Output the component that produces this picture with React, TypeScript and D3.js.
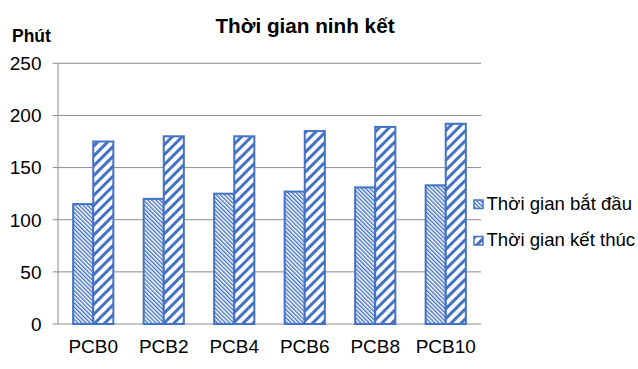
import React from "react";
import * as d3 from "d3";

const categories = ["PCB0", "PCB2", "PCB4", "PCB6", "PCB8", "PCB10"];
const startValues = [115, 120, 125, 127, 131, 133];
const endValues = [175, 180, 180, 185, 189, 192];
const seriesNames = ["Thời gian bắt đầu", "Thời gian kết thúc"];
const yTicks = [0, 50, 100, 150, 200, 250];

const W = 638;
const H = 369;
const BLUE = "#4472C4";
const GRID = "#8c8c8c";
const FONT = "'Liberation Sans', Arial, sans-serif";

export default function App() {
  const x = d3
    .scaleBand<string>()
    .domain(categories)
    .range([58, 481])
    .paddingInner(0.43)
    .paddingOuter(0.215);
  const y = d3.scaleLinear().domain([0, 250]).range([324, 63.3]);
  const bw = x.bandwidth() / 2;

  return (
    <svg
      width={W}
      height={H}
      style={{ position: "absolute", left: 0, top: 0, background: "#fff" }}
    >
      <defs>
        <pattern
          id="pDown"
          width={2.9}
          height={2.9}
          patternUnits="userSpaceOnUse"
          patternTransform="rotate(-45)"
        >
          <rect width={2.9} height={2.9} fill="#fff" />
          <rect width={1.4} height={2.9} fill={BLUE} />
        </pattern>
        <pattern
          id="pUp"
          width={7}
          height={7}
          patternUnits="userSpaceOnUse"
          patternTransform="rotate(45)"
        >
          <rect width={7} height={7} fill="#fff" />
          <rect width={3} height={7} fill={BLUE} />
        </pattern>
      </defs>

      {/* title */}
      <text
        x={305}
        y={33}
        textAnchor="middle"
        fontFamily={FONT}
        fontWeight="bold"
        fontSize={20.7}
        fill="#000"
      >
        Thời gian ninh kết
      </text>
      <text
        x={12}
        y={41.5}
        fontFamily={FONT}
        fontWeight="bold"
        fontSize={17.5}
        fill="#000"
      >
        Phút
      </text>

      {/* grid */}
      {yTicks.map((t) => (
        <g key={t}>
          <line
            x1={52.7}
            x2={481}
            y1={y(t)}
            y2={y(t)}
            stroke={GRID}
            strokeWidth={1}
          />
          <text
            x={41.5}
            y={y(t)}
            dy="0.36em"
            textAnchor="end"
            fontFamily={FONT}
            fontSize={19}
            fill="#000"
          >
            {t}
          </text>
        </g>
      ))}
      <line x1={58} x2={58} y1={y(250)} y2={y(0)} stroke={GRID} strokeWidth={1} />

      {/* bars */}
      {categories.map((c, i) => {
        const x0 = x(c)!;
        return (
          <g key={c}>
            <rect
              x={x0}
              y={y(startValues[i])}
              width={bw}
              height={y(0) - y(startValues[i])}
              fill="url(#pDown)"
              stroke={BLUE}
              strokeWidth={2}
            />
            <rect
              x={x0 + bw}
              y={y(endValues[i])}
              width={bw}
              height={y(0) - y(endValues[i])}
              fill="url(#pUp)"
              stroke={BLUE}
              strokeWidth={2}
            />
            <text
              x={x0 + bw}
              y={352.7}
              textAnchor="middle"
              fontFamily={FONT}
              fontSize={19}
              fill="#000"
            >
              {c}
            </text>
          </g>
        );
      })}

      {/* legend */}
      {seriesNames.map((n, i) => (
        <g key={n} transform={`translate(0, ${i * 36.5})`}>
          <rect
            x={474}
            y={200}
            width={9}
            height={8.5}
            fill={i === 0 ? "url(#pDown)" : "url(#pUp)"}
            stroke={BLUE}
            strokeWidth={1.5}
          />
          <text x={486.5} y={209.8} fontFamily={FONT} fontSize={18.6} fill="#000">
            {n}
          </text>
        </g>
      ))}
    </svg>
  );
}
